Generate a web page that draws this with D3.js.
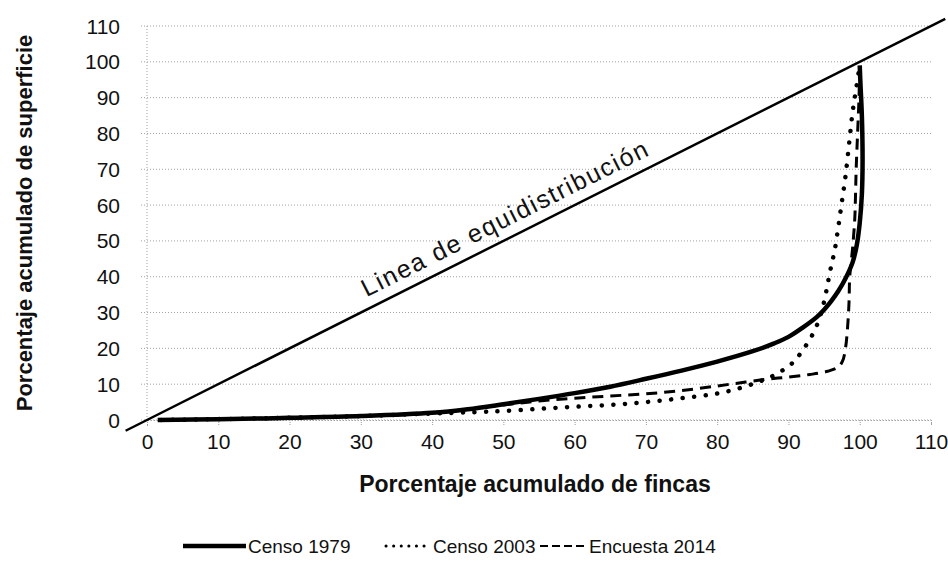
<!DOCTYPE html>
<html>
<head>
<meta charset="utf-8">
<script src="https://cdn.jsdelivr.net/npm/d3@7"></script>
<style>
  body { margin: 0; background: #fff; }
  svg { font-family: "Liberation Sans", Arial, sans-serif; }
</style>
</head>
<body>
<svg id="chart" width="948" height="561"></svg>
<script>
// valores (porcentaje acumulado de fincas, de superficie)
const xTicks = [0, 10, 20, 30, 40, 50, 60, 70, 80, 90, 100, 110];
const yTicks = [0, 10, 20, 30, 40, 50, 60, 70, 80, 90, 100, 110];

const censo1979 = [[1.5, 0], [10, 0.2], [20, 0.6], [30, 1.1], [40, 2], [45, 3], [50, 4.4],
  [55, 5.9], [60, 7.5], [65, 9.3], [70, 11.5], [75, 13.8], [80, 16.3], [85, 19.2],
  [88, 21.4], [90, 23.2], [92, 25.8], [94, 28.8], [95, 30.8], [96, 33.2], [97, 36],
  [98, 39.5], [99, 44], [99.6, 49], [100, 55], [100.3, 63], [100.4, 72], [100.3, 85],
  [100.1, 94], [100, 99]];

const censo2003 = [[2, 0], [20, 0.6], [30, 1.1], [40, 1.8], [46, 2.2], [50, 2.5], [55, 3.1],
  [60, 3.7], [65, 4.2], [70, 5], [75, 6.1], [80, 7.4], [83, 8.8], [86, 10.8], [88, 12.5],
  [90, 15], [91, 16.8], [92, 19.5], [93, 22.5], [94, 26.5], [95, 33], [95.5, 38],
  [96, 43], [96.5, 47.5], [97, 54], [97.5, 61], [98, 68], [98.5, 77], [99, 86],
  [99.5, 92.5], [100, 99]];

const encuesta2014 = [[2, 0], [20, 0.6], [30, 1.1], [40, 2], [50, 4.2], [55, 5.3], [60, 6.1],
  [65, 6.7], [70, 7.3], [75, 8.2], [80, 9.5], [84, 10.6], [87, 11.4], [90, 12], [93, 12.7],
  [95.5, 13.6], [97, 14.8], [97.6, 16.5], [98, 20], [98.3, 26], [98.5, 33], [98.6, 40],
  [99, 48], [99.3, 56], [99.4, 62], [99.5, 70], [99.7, 80], [99.9, 90], [100, 99]];

const equidistribucion = [[-3, -3], [112, 112]];

const seriesNames = ["Censo 1979", "Censo 2003", "Encuesta 2014"];
const xTitle = "Porcentaje acumulado de fincas";
const yTitle = "Porcentaje acumulado de superficie";
const lineLabel = "Linea de equidistribución";

const svg = d3.select("#chart");

const x = d3.scaleLinear().domain([0, 110]).range([147, 931]);
const y = d3.scaleLinear().domain([0, 110]).range([420, 26]);

// rejilla punteada
svg.append("g")
  .selectAll("line")
  .data(yTicks)
  .enter()
  .append("line")
  .attr("x1", x(0) - 6)
  .attr("x2", x(110))
  .attr("y1", d => y(d))
  .attr("y2", d => y(d))
  .attr("stroke", "#a0a0a0")
  .attr("stroke-width", 1)
  .attr("stroke-dasharray", "1,2");

// eje vertical
svg.append("line")
  .attr("x1", x(0)).attr("x2", x(0))
  .attr("y1", y(0)).attr("y2", y(110))
  .attr("stroke", "#a0a0a0")
  .attr("stroke-dasharray", "1,2");

// eje x con marcas
let xAxis = d3.axisBottom(x).tickValues(xTicks).tickSize(6).tickPadding(8);
let gx = svg.append("g")
  .attr("transform", "translate(0," + y(0) + ")")
  .call(xAxis);
gx.select(".domain").attr("stroke", "#a0a0a0").attr("stroke-dasharray", "1,2");
gx.selectAll(".tick line").attr("stroke", "#a0a0a0").attr("stroke-dasharray", "1,1");
gx.selectAll(".tick text")
  .attr("font-size", 21)
  .attr("font-family", "Liberation Sans, Arial, sans-serif")
  .attr("fill", "#111");

// etiquetas eje y
svg.append("g")
  .selectAll("text")
  .data(yTicks)
  .enter()
  .append("text")
  .attr("x", 120)
  .attr("y", d => y(d))
  .attr("dy", "0.36em")
  .attr("text-anchor", "end")
  .attr("font-size", 21)
  .attr("fill", "#111")
  .text(d => d);

// linea de equidistribucion
let straight = d3.line().x(d => x(d[0])).y(d => y(d[1]));
svg.append("path")
  .attr("d", straight(equidistribucion))
  .attr("fill", "none")
  .attr("stroke", "#000")
  .attr("stroke-width", 2.5);

let angle = Math.atan2(y(100) - y(0), x(100) - x(0)) * 180 / Math.PI;
svg.append("text")
  .attr("transform", "translate(" + x(31.5) + "," + y(31.5) + ") rotate(" + angle + ")")
  .attr("x", 0)
  .attr("y", -11)
  .attr("font-size", 25)
  .attr("textLength", 317)
  .attr("fill", "#111")
  .text(lineLabel);

// curvas de Lorenz
let curve = d3.line()
  .x(d => x(d[0]))
  .y(d => y(d[1]))
  .curve(d3.curveCatmullRom.alpha(0.5));

svg.append("path")
  .attr("d", curve(censo1979))
  .attr("fill", "none")
  .attr("stroke", "#000")
  .attr("stroke-width", 4.5);

svg.append("path")
  .attr("d", curve(censo2003))
  .attr("fill", "none")
  .attr("stroke", "#000")
  .attr("stroke-width", 4.5)
  .attr("stroke-linecap", "round")
  .attr("stroke-dasharray", "0.1,11.5");

svg.append("path")
  .attr("d", curve(encuesta2014))
  .attr("fill", "none")
  .attr("stroke", "#000")
  .attr("stroke-width", 3)
  .attr("stroke-dasharray", "11,7");

// titulos de ejes
svg.append("text")
  .attr("x", 535)
  .attr("y", 492)
  .attr("text-anchor", "middle")
  .attr("font-size", 23)
  .attr("font-weight", "bold")
  .attr("fill", "#111")
  .text(xTitle);

svg.append("text")
  .attr("transform", "translate(32,223) rotate(-90)")
  .attr("text-anchor", "middle")
  .attr("font-size", 22)
  .attr("font-weight", "bold")
  .attr("fill", "#111")
  .text(yTitle);

// leyenda
let legend = [
  { name: seriesNames[0], x1: 183, x2: 246, width: 4.5, dash: null, cap: "butt" },
  { name: seriesNames[1], x1: 386, x2: 431, width: 3, dash: "0.1,7.5", cap: "round" },
  { name: seriesNames[2], x1: 540, x2: 587, width: 2, dash: "8,4", cap: "butt" }
];
let lg = svg.append("g").selectAll("g").data(legend).enter().append("g");
lg.append("line")
  .attr("x1", d => d.x1).attr("x2", d => d.x2)
  .attr("y1", 546).attr("y2", 546)
  .attr("stroke", "#000")
  .attr("stroke-width", d => d.width)
  .attr("stroke-linecap", d => d.cap)
  .attr("stroke-dasharray", d => d.dash);
lg.append("text")
  .attr("x", d => d.x2 + 2)
  .attr("y", 553)
  .attr("font-size", 19)
  .attr("fill", "#111")
  .text(d => d.name);
</script>
</body>
</html>
